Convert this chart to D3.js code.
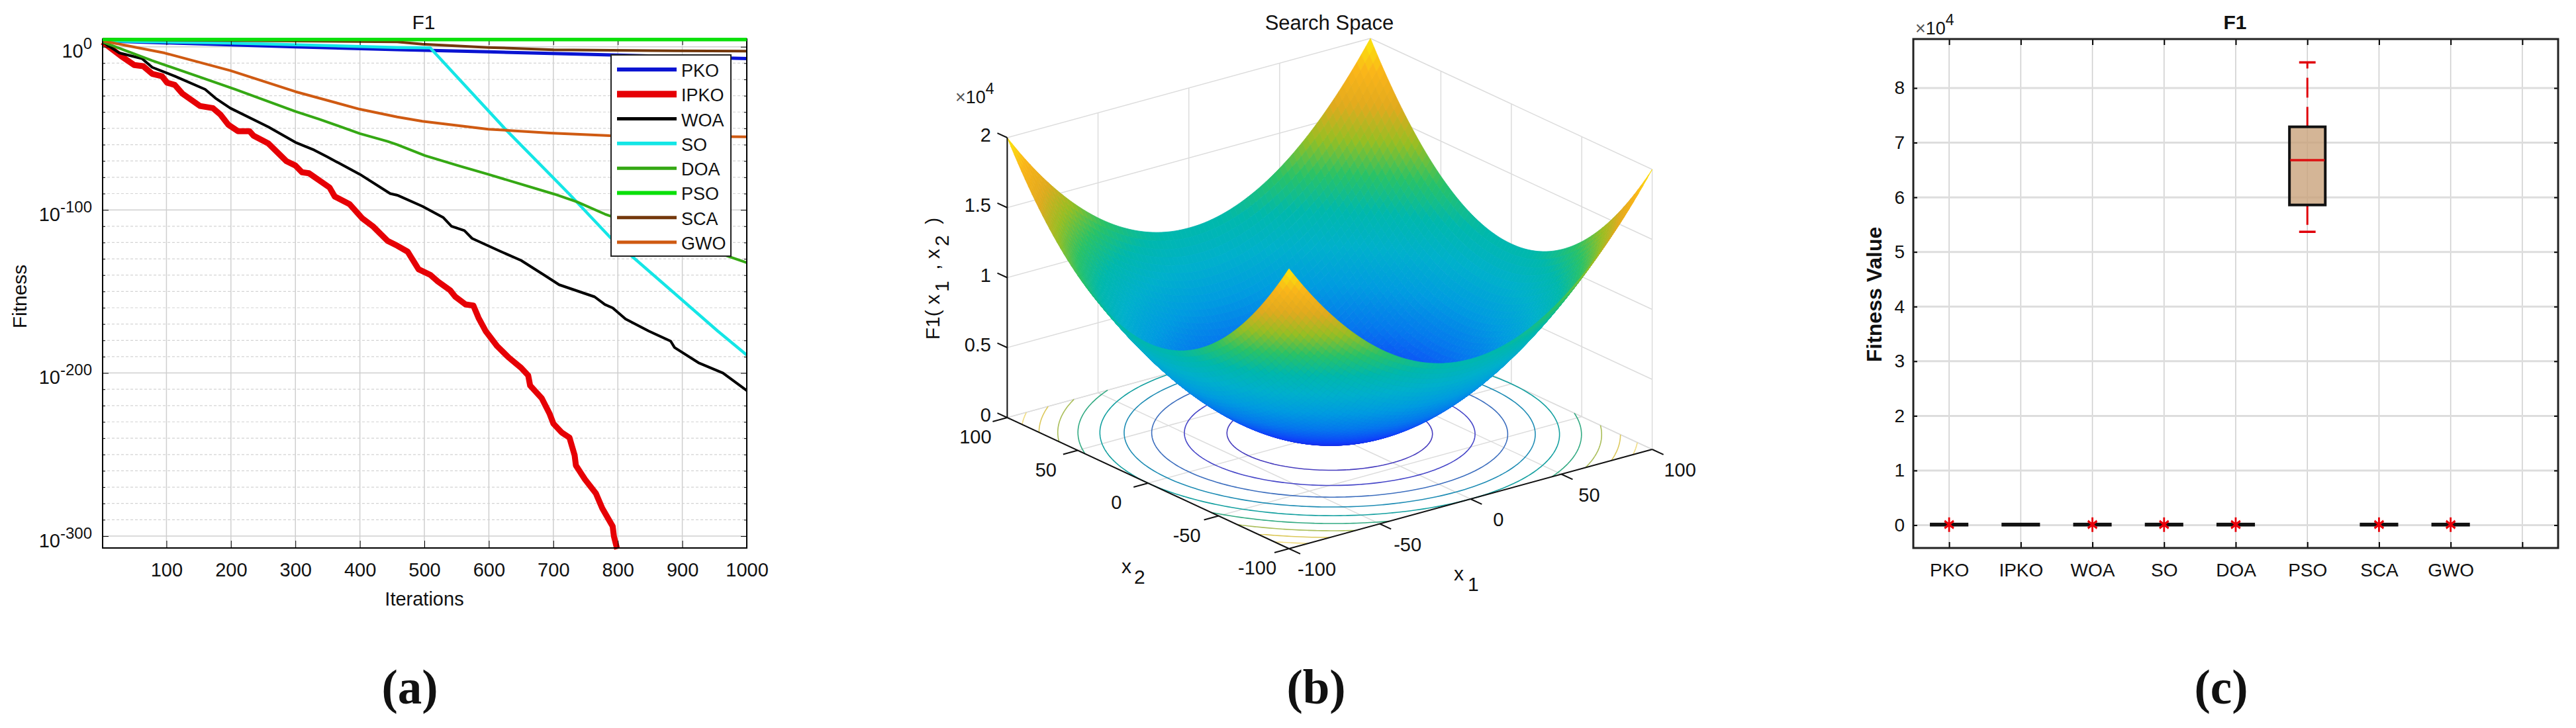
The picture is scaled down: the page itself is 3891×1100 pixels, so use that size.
<!DOCTYPE html>
<html>
<head>
<meta charset="utf-8">
<script src="https://cdn.jsdelivr.net/npm/d3@7"></script>
<style>
  body { margin: 0; background: #fff; }
  text { font-family: "Liberation Sans", Arial, sans-serif; fill: #111; }
  .caption { font-family: "Liberation Serif", serif; font-weight: bold; font-size: 73px; text-anchor: middle; }
</style>
</head>
<body>
<div class="chart"></div>
<script>
// ---------- panel (a), values are [iteration, log10 of fitness]
const algoNames = ['PKO', 'IPKO', 'WOA', 'SO', 'DOA', 'PSO', 'SCA', 'GWO']
const algoColors = ['#0a14d2', '#e60005', '#000000', '#14e6e6', '#35a814', '#0ae00a', '#74380c', '#cf5a12']
const pko = [[1,3.6],[300,0],[458,-1.7],[599,-3.1],[800,-5.1],[1000,-7.2]]
const ipko = [[1,3],[30,-5.8],[50,-11.2],[64,-11.9],[78,-16.6],[93,-18],[101,-22],[113,-23.4],[125,-28.8],[152,-36.3],[172,-37.6],[184,-41.7],[196,-47.8],[211,-51.8],[229,-51.8],[235,-54.5],[258,-59.3],[286,-70.1],[300,-72.8],[310,-76.9],[321,-77.5],[353,-86.3],[361,-91.8],[384,-96.5],[404,-105.3],[420,-110],[443,-119],[458,-122],[474,-125.6],[491,-136.4],[509,-139.8],[521,-143.9],[540,-149.3],[548,-153.3],[564,-158],[576,-158.7],[584,-166.2],[595,-174.3],[613,-183.6],[631,-190.6],[650,-196.8],[661,-201.5],[664,-207.7],[682,-215.5],[694,-224.8],[700,-231],[713,-236.5],[725,-239.6],[733,-250.4],[735,-256.7],[749,-265.2],[766,-273.8],[776,-283.1],[792,-294],[794,-300.2],[799,-308]]
const woa = [[1,3],[27,-3.8],[62,-7.2],[78,-12.6],[113,-18],[160,-26.1],[176,-31.5],[199,-37.6],[258,-49.1],[300,-58.6],[329,-63.3],[349,-67.4],[400,-78.2],[447,-90],[458,-91],[497,-97.8],[529,-104.6],[542,-110],[562,-112.7],[574,-117.5],[615,-124.9],[650,-131],[688,-140.5],[709,-145.9],[764,-153.3],[780,-158],[792,-160.1],[812,-166.9],[848,-174.3],[882,-180.5],[888,-184.4],[925,-193.7],[963,-200],[1000,-210.8]]
const so = [[1,3.6],[196,2.3],[458,-0.4],[509,-0.6],[627,-51.1],[725,-90.4],[788,-116.8],[955,-174.3],[1000,-189]]
const doa = [[1,3],[78,-8.5],[148,-18],[207,-26.1],[300,-39.6],[337,-44.4],[400,-53.2],[443,-58],[458,-60],[501,-66.7],[552,-72.8],[599,-78.2],[702,-90.4],[737,-95.1],[780,-102.6],[1000,-132.4]]
const pso = [[1,4.4],[500,4.4],[1000,4.4]]
const sca = [[1,4.5],[458,3],[497,1.6],[599,-0.4],[700,-1.8],[851,-2.4],[1000,-2.7]]
const gwo = [[1,3.6],[97,-3.8],[199,-14.6],[300,-27.5],[400,-38.3],[458,-43],[497,-45.7],[599,-50.5],[694,-52.9],[788,-54.5],[1000,-55.2]]
const algoSeries = [pko, ipko, woa, so, doa, pso, sca, gwo]
const algoWidths = [5, 9, 4, 4.5, 4, 5, 4, 4]
const iterTicks = [100, 200, 300, 400, 500, 600, 700, 800, 900, 1000]
const decadeTicks = [0, -100, -200, -300]
const minorDecades = [-10,-20,-30,-40,-50,-60,-70,-80,-90,-110,-120,-130,-140,-150,-160,-170,-180,-190,-210,-220,-230,-240,-250,-260,-270,-280,-290]

// ---------- panel (b), F1 along one axis at x = -100, -97.5 ... 0, mirrored for the other half
const f1HalfProfile = [10000,9506,9025,8556,8100,7656,7225,6806,6400,6006,5625,5256,4900,4556,4225,3906,3600,3306,3025,2756,2500,2256,2025,1806,1600,1406,1225,1056,900,756,625,506,400,306,225,156,100,56,25,6,0]
const f1Profile = f1HalfProfile.concat(f1HalfProfile.slice(0, 40).reverse())
const contourLevels = [2000, 4000, 6000, 8000, 10000, 12000, 14000, 16000, 18000]
const contourColors = ['#463cbe', '#4646c8', '#3c6ebe', '#1e8cb4', '#14a0a0', '#32aa82', '#aabe5a', '#dcc85a', '#f0dc82']
const zTicks = [0, 5000, 10000, 15000, 20000]
const zTickLabels = ['0', '0.5', '1', '1.5', '2']
const xyTicks = [-100, -50, 0, 50, 100]
const surfaceStops = [0, 2000, 4000, 6000, 8000, 10000, 12000, 14000, 16000, 18000, 20000]
const surfaceColors = ['#1919d7', '#1040fa', '#0578ee', '#009ce0', '#00b0cc', '#00b8ac', '#28c268', '#96be23', '#e1aa1e', '#fab419', '#faeb0a']

// ---------- panel (c), values in units of 10^4
const boxLow = [0, 0, 0, 0, 0, 5.37, 0, 0]
const boxQ1 = [0, 0, 0, 0, 0, 5.86, 0, 0]
const boxMedian = [0, 0, 0, 0, 0, 6.68, 0, 0]
const boxQ3 = [0.02, 0.02, 0.02, 0.02, 0.02, 7.29, 0.02, 0.02]
const boxHigh = [0, 0, 0, 0, 0, 8.47, 0, 0]
const boxOutliers = [0.01, null, 0.01, 0.01, 0.01, null, 0.01, 0.01]
const fitnessTicks = [0, 1, 2, 3, 4, 5, 6, 7, 8]

const svg = d3.select('.chart').append('svg')
  .attr('width', 3891)
  .attr('height', 1100)

// ---- (a) convergence curves
const ax = { left: 155, right: 1128, top: 59, bottom: 828 }
const iterX = d3.scaleLinear().domain([1, 1000]).range([ax.left, ax.right])
const expY = d3.scaleLinear().domain([0, -300]).range([70.7, 810])

const gA = svg.append('g')

gA.selectAll('.vgrid').data(iterTicks).join('line')
  .attr('x1', d => iterX(d)).attr('x2', d => iterX(d))
  .attr('y1', ax.top).attr('y2', ax.bottom)
  .attr('stroke', '#cfcfcf').attr('stroke-width', 1.5)
gA.selectAll('.mgrid').data(minorDecades).join('line')
  .attr('x1', ax.left).attr('x2', ax.right)
  .attr('y1', d => expY(d)).attr('y2', d => expY(d))
  .attr('stroke', '#d4d4d4').attr('stroke-width', 1.2).attr('stroke-dasharray', '4 3')
gA.selectAll('.hgrid').data(decadeTicks).join('line')
  .attr('x1', ax.left).attr('x2', ax.right)
  .attr('y1', d => expY(d)).attr('y2', d => expY(d))
  .attr('stroke', '#cfcfcf').attr('stroke-width', 1.5)

const curve = d3.line().x(d => iterX(d[0])).y(d => expY(d[1]))
gA.selectAll('.curve').data(algoSeries).join('path')
  .attr('d', curve)
  .attr('fill', 'none')
  .attr('stroke', (d, i) => algoColors[i])
  .attr('stroke-width', (d, i) => algoWidths[i])
  .attr('stroke-linejoin', 'round')

const aBottom = gA.append('g').attr('transform', 'translate(0,' + ax.bottom + ')')
  .call(d3.axisBottom(iterX).tickValues(iterTicks).tickSizeInner(-11).tickSizeOuter(0).tickFormat(d3.format('d')))
aBottom.selectAll('text').attr('dy', 0).attr('y', 43).style('font-size', '29px')
const aTop = gA.append('g').attr('transform', 'translate(0,' + ax.top + ')')
  .call(d3.axisTop(iterX).tickValues(iterTicks).tickSizeInner(-9).tickSizeOuter(0).tickFormat(''))

const minorAxis = (g, axisFn) => g.call(axisFn(expY).tickValues(minorDecades).tickSize(-4).tickFormat(''))
const majorAxis = axisFn => axisFn(expY).tickValues(decadeTicks).tickSize(-9).tickFormat('')
minorAxis(gA.append('g').attr('transform', 'translate(' + ax.left + ',0)'), d3.axisLeft)
minorAxis(gA.append('g').attr('transform', 'translate(' + ax.right + ',0)'), d3.axisRight)
gA.append('g').attr('transform', 'translate(' + ax.right + ',0)').call(majorAxis(d3.axisRight))
const aLeft = gA.append('g').attr('transform', 'translate(' + ax.left + ',0)').call(majorAxis(d3.axisLeft))

aLeft.selectAll('.tick text').each(function(d) {
  const t = d3.select(this).attr('x', -16).attr('dy', 0).attr('y', 16)
    .attr('text-anchor', 'end').style('font-size', '29px')
  t.text('10')
  t.append('tspan').attr('dy', -13).style('font-size', '24px').text(d)
})
gA.selectAll('.domain').attr('stroke', 'none')
gA.append('rect')
  .attr('x', ax.left).attr('y', ax.top)
  .attr('width', ax.right - ax.left).attr('height', ax.bottom - ax.top)
  .attr('fill', 'none').attr('stroke', '#000').attr('stroke-width', 2)
// PSO sits right on the top edge, put it back over the frame
gA.append('path').datum(pso).attr('d', curve).attr('fill', 'none')
  .attr('stroke', algoColors[5]).attr('stroke-width', 5)

gA.append('text').attr('x', 640).attr('y', 44).attr('text-anchor', 'middle').style('font-size', '30px').text('F1')
gA.append('text').attr('x', 641).attr('y', 915).attr('text-anchor', 'middle').style('font-size', '29px').text('Iterations')
gA.append('text').attr('transform', 'translate(40,448) rotate(-90)').attr('text-anchor', 'middle').style('font-size', '30px').text('Fitness')

const legendRow = d3.scaleLinear().domain([0, 7]).range([105, 366])
const legend = gA.append('g')
legend.append('rect')
  .attr('x', 923).attr('y', 83).attr('width', 181).attr('height', 304)
  .attr('fill', '#fff').attr('stroke', '#222').attr('stroke-width', 2)
legend.selectAll('line').data(algoNames).join('line')
  .attr('x1', 932).attr('x2', 1022)
  .attr('y1', (d, i) => legendRow(i)).attr('y2', (d, i) => legendRow(i))
  .attr('stroke', (d, i) => algoColors[i])
  .attr('stroke-width', (d, i) => algoWidths[i] + 1)
legend.selectAll('text').data(algoNames).join('text')
  .attr('x', 1029).attr('y', (d, i) => legendRow(i) + 11)
  .style('font-size', '27px').text(d => d)

// ---- (b) sphere surface, orthographic view fixed by the corners of the box
const dxOf1 = d3.scaleLinear().domain([-100, 100]).range([-274.3, 274.3])
const dyOf1 = d3.scaleLinear().domain([-100, 100]).range([75, -75])
const dxOf2 = d3.scaleLinear().domain([-100, 100]).range([212.8, -212.8])
const dyOf2 = d3.scaleLinear().domain([-100, 100]).range([99, -99])
const dyOfZ = d3.scaleLinear().domain([0, 20000]).range([0, -423])
const project = (a, b, z) => [2008.5 + dxOf1(a) + dxOf2(b), 655 + dyOf1(a) + dyOf2(b) + dyOfZ(z)]
const surfaceColor = d3.scaleLinear().domain(surfaceStops).range(surfaceColors)
const gridCoord = d3.scaleLinear().domain([0, f1Profile.length - 1]).range([-100, 100])

const gB = svg.append('g')
const seg = (p, q) => 'M' + p + 'L' + q

// box edges and grids on the two back walls and the floor
const gridLines = []
xyTicks.forEach(v => {
  gridLines.push(seg(project(v, -100, 0), project(v, 100, 0)))
  gridLines.push(seg(project(-100, v, 0), project(100, v, 0)))
  gridLines.push(seg(project(v, 100, 0), project(v, 100, 20000)))
  gridLines.push(seg(project(100, v, 0), project(100, v, 20000)))
})
zTicks.forEach(z => {
  gridLines.push(seg(project(-100, 100, z), project(100, 100, z)))
  gridLines.push(seg(project(100, 100, z), project(100, -100, z)))
})
gB.selectAll('.wall').data(gridLines).join('path')
  .attr('d', d => d).attr('fill', 'none').attr('stroke', '#dcdcdc').attr('stroke-width', 1.5)

// contours on the floor
const n = f1Profile.length
const values = []
f1Profile.forEach(b => f1Profile.forEach(a => values.push(a + b)))
const contours = d3.contours().size([n, n]).thresholds(contourLevels)(values)
const ringLine = d3.line()
  .defined(p => p[0] >= 0.5 && p[0] <= n - 0.5 && p[1] >= 0.5 && p[1] <= n - 0.5)
  .x(p => project(gridCoord(p[0] - 0.5), gridCoord(p[1] - 0.5), 0)[0])
  .y(p => project(gridCoord(p[0] - 0.5), gridCoord(p[1] - 0.5), 0)[1])
contours.forEach((c, k) => {
  c.coordinates.forEach(poly => poly.forEach(ring => {
    gB.append('path').attr('d', ringLine(ring))
      .attr('fill', 'none').attr('stroke', contourColors[k]).attr('stroke-width', 1.6)
  }))
})

// quads back to front so the near rim covers the bowl
const quads = []
for (let i = n - 2; i >= 0; i--) {
  for (let j = n - 2; j >= 0; j--) {
    const corners = [[i, j], [i + 1, j], [i + 1, j + 1], [i, j + 1]]
    const zs = corners.map(c => f1Profile[c[0]] + f1Profile[c[1]])
    quads.push({
      d: 'M' + corners.map((c, k) => project(gridCoord(c[0]), gridCoord(c[1]), zs[k])).join('L') + 'Z',
      z: d3.mean(zs)
    })
  }
}
gB.selectAll('.quad').data(quads).join('path')
  .attr('d', d => d.d)
  .attr('fill', d => surfaceColor(d.z))
  .attr('stroke', d => surfaceColor(d.z))
  .attr('stroke-width', 0.8)

const blackEdges = [
  seg(project(-100, 100, 0), project(-100, 100, 20000)),
  seg(project(-100, 100, 0), project(-100, -100, 0)),
  seg(project(-100, -100, 0), project(100, -100, 0))
]
xyTicks.forEach(v => {
  blackEdges.push(seg(project(v, -100, 0), project(v, -108, 0)))
  blackEdges.push(seg(project(-100, v, 0), project(-108, v, 0)))
})
zTicks.forEach(z => blackEdges.push(seg(project(-100, 100, z), project(-100, 107, z))))
gB.selectAll('.edge').data(blackEdges).join('path')
  .attr('d', d => d).attr('fill', 'none').attr('stroke', '#111').attr('stroke-width', 2)

gB.selectAll('.zlabel').data(zTicks).join('text')
  .attr('x', 1497).attr('y', d => project(-100, 100, d)[1] + 6)
  .attr('text-anchor', 'end').style('font-size', '29px')
  .text((d, i) => zTickLabels[i])
gB.selectAll('.x1label').data(xyTicks).join('text')
  .attr('x', d => project(d, -100, 0)[0] + 42).attr('y', d => project(d, -100, 0)[1] + 41)
  .attr('text-anchor', 'middle').style('font-size', '29px').text(d => d)
gB.selectAll('.x2label').data(xyTicks).join('text')
  .attr('x', d => project(-100, d, 0)[0] - 48).attr('y', d => project(-100, d, 0)[1] + 39)
  .attr('text-anchor', 'middle').style('font-size', '29px').text(d => d)

gB.append('text').attr('x', 2008).attr('y', 45).attr('text-anchor', 'middle').style('font-size', '31px').text('Search Space')

const timesTen = (g, x, y) => {
  const t = g.append('text').attr('x', x).attr('y', y).style('font-size', '27px')
  t.append('tspan').style('fill', '#555').text('\u00d7')
  t.append('tspan').text('10')
  t.append('tspan').attr('dy', -14).style('font-size', '23px').text('4')
}
timesTen(gB, 1443, 156)

const x1Label = gB.append('text').attr('x', 2196).attr('y', 877).style('font-size', '30px').text('x')
x1Label.append('tspan').attr('dy', 16).attr('dx', 6).text('1')
const x2Label = gB.append('text').attr('x', 1694).attr('y', 866).style('font-size', '30px').text('x')
x2Label.append('tspan').attr('dy', 16).attr('dx', 4).text('2')
const zLabel = gB.append('text').attr('transform', 'translate(1419,421) rotate(-90)')
  .attr('text-anchor', 'middle').style('font-size', '30px')
zLabel.append('tspan').text('F1(\u00a0x')
zLabel.append('tspan').attr('dy', 14).attr('dx', 4).text('1')
zLabel.append('tspan').attr('dy', -14).text('\u00a0\u00a0,\u00a0x')
zLabel.append('tspan').attr('dy', 14).attr('dx', 4).text('2')
zLabel.append('tspan').attr('dy', -14).text('\u00a0\u00a0)')

// ---- (c) box plot
const cx = { left: 2890, right: 3864, top: 59, bottom: 828 }
const algoX = d3.scaleLinear().domain([0.5, 9.5]).range([cx.left, cx.right])
const fitY = d3.scaleLinear().domain([0, 8]).range([793.5, 133])
const slots = [1, 2, 3, 4, 5, 6, 7, 8, 9]

const gC = svg.append('g')
gC.selectAll('.vgrid').data(slots).join('line')
  .attr('x1', d => algoX(d)).attr('x2', d => algoX(d))
  .attr('y1', cx.top).attr('y2', cx.bottom)
  .attr('stroke', '#d0d0d0').attr('stroke-width', 1.6)
gC.selectAll('.hgrid').data(fitnessTicks).join('line')
  .attr('x1', cx.left).attr('x2', cx.right)
  .attr('y1', d => fitY(d)).attr('y2', d => fitY(d))
  .attr('stroke', '#dddddd').attr('stroke-width', 3)

const boxIndex = d3.range(algoNames.length)
gC.selectAll('.whisker').data(boxIndex.filter(i => boxHigh[i] > 0)).join('path')
  .attr('d', i => {
    const x = algoX(i + 1)
    return 'M' + x + ',' + fitY(boxQ3[i]) + 'V' + fitY(boxHigh[i]) + 'M' + x + ',' + fitY(boxQ1[i]) + 'V' + fitY(boxLow[i])
  })
  .attr('fill', 'none').attr('stroke', '#e0000a').attr('stroke-width', 3).attr('stroke-dasharray', '30 14')
gC.selectAll('.cap').data(boxIndex.filter(i => boxHigh[i] > 0)).join('path')
  .attr('d', i => {
    const x0 = algoX(i + 1 - 0.115), x1 = algoX(i + 1 + 0.115)
    return 'M' + x0 + ',' + fitY(boxHigh[i]) + 'H' + x1 + 'M' + x0 + ',' + fitY(boxLow[i]) + 'H' + x1
  })
  .attr('fill', 'none').attr('stroke', '#e0000a').attr('stroke-width', 3.5)
gC.selectAll('.box').data(boxIndex).join('rect')
  .attr('x', i => algoX(i + 1 - 0.25))
  .attr('width', algoX(1.25) - algoX(0.75))
  .attr('y', i => fitY(boxQ3[i]))
  .attr('height', i => fitY(boxQ1[i]) - fitY(boxQ3[i]))
  .attr('fill', '#c9a27c').attr('fill-opacity', 0.8)
  .attr('stroke', '#111').attr('stroke-width', 4)
gC.selectAll('.median').data(boxIndex.filter(i => boxHigh[i] > 0)).join('line')
  .attr('x1', i => algoX(i + 1 - 0.24)).attr('x2', i => algoX(i + 1 + 0.24))
  .attr('y1', i => fitY(boxMedian[i])).attr('y2', i => fitY(boxMedian[i]))
  .attr('stroke', '#dd1111').attr('stroke-width', 3.5)
gC.selectAll('.outlier').data(boxIndex.filter(i => boxOutliers[i] !== null)).join('path')
  .attr('d', d3.symbol(d3.symbolAsterisk, 280))
  .attr('transform', i => 'translate(' + algoX(i + 1) + ',' + fitY(boxOutliers[i]) + ') scale(0.8,1.1)')
  .attr('fill', 'none').attr('stroke', '#e8000a').attr('stroke-width', 3.5)

const cBottom = gC.append('g').attr('transform', 'translate(0,' + cx.bottom + ')')
  .call(d3.axisBottom(algoX).tickValues(slots).tickSizeInner(-9).tickSizeOuter(0).tickFormat(d => algoNames[d - 1] || ''))
cBottom.selectAll('text').attr('dy', 0).attr('y', 43).style('font-size', '28px')
gC.append('g').attr('transform', 'translate(0,' + cx.top + ')')
  .call(d3.axisTop(algoX).tickValues(slots).tickSizeInner(-9).tickSizeOuter(0).tickFormat(''))
const cLeft = gC.append('g').attr('transform', 'translate(' + cx.left + ',0)')
  .call(d3.axisLeft(fitY).tickValues(fitnessTicks).tickSizeInner(-6).tickSizeOuter(0).tickFormat(d3.format('d')))
cLeft.selectAll('text').attr('x', -13).style('font-size', '28px')
gC.append('g').attr('transform', 'translate(' + cx.right + ',0)')
  .call(d3.axisRight(fitY).tickValues(fitnessTicks).tickSizeInner(-6).tickSizeOuter(0).tickFormat(''))
gC.selectAll('.domain').attr('stroke', 'none')
gC.selectAll('.tick line').attr('stroke-width', 2)
gC.append('rect')
  .attr('x', cx.left).attr('y', cx.top)
  .attr('width', cx.right - cx.left).attr('height', cx.bottom - cx.top)
  .attr('fill', 'none').attr('stroke', '#222').attr('stroke-width', 3)

gC.append('text').attr('x', 3376).attr('y', 44).attr('text-anchor', 'middle')
  .style('font-size', '30px').style('font-weight', 'bold').text('F1')
timesTen(gC, 2893, 52)
gC.append('text').attr('transform', 'translate(2842,445) rotate(-90)').attr('text-anchor', 'middle')
  .style('font-size', '32px').style('font-weight', 'bold').text('Fitness Value')

// ---- captions
const captions = [['(a)', 619], ['(b)', 1988], ['(c)', 3355]]
svg.selectAll('.caption').data(captions).join('text')
  .attr('class', 'caption')
  .attr('x', d => d[1]).attr('y', 1063)
  .text(d => d[0])
</script>
</body>
</html>
